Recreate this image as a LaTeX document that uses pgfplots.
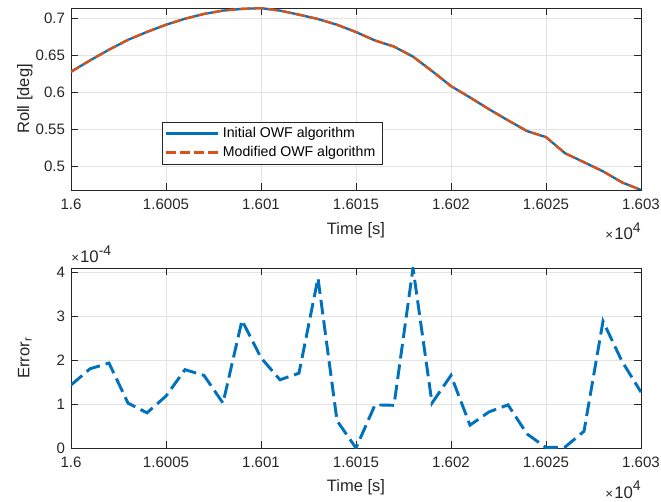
\documentclass[border=0pt]{standalone}
\usepackage{fontspec}
\setmainfont{Liberation Sans}
\usepackage{pgfplots}
\pgfplotsset{compat=1.18}
\definecolor{mblue}{rgb}{0,0.447,0.741}
\definecolor{morange}{rgb}{0.85,0.325,0.098}
\definecolor{axgray}{rgb}{0.15,0.15,0.15}

\pgfplotstableread{
t roll
16000 0.6274
16001 0.6427
16002 0.6572
16003 0.6705
16004 0.6812
16005 0.6909
16006 0.6990
16007 0.7055
16008 0.7100
16009 0.7123
16010 0.7133
16011 0.7100
16012 0.7045
16013 0.6986
16014 0.6909
16015 0.6810
16016 0.6696
16017 0.6614
16018 0.6478
16019 0.6284
16020 0.6080
16021 0.5927
16022 0.5768
16023 0.5618
16024 0.5473
16025 0.5391
16026 0.5174
16027 0.5052
16028 0.4929
16029 0.4780
16030 0.4677
}\rolldata

\pgfplotstableread{
t err
16000 1.43e-4
16001 1.80e-4
16002 1.93e-4
16003 1.02e-4
16004 0.80e-4
16005 1.18e-4
16006 1.78e-4
16007 1.65e-4
16008 1.02e-4
16009 2.90e-4
16010 2.05e-4
16011 1.55e-4
16012 1.70e-4
16013 3.86e-4
16014 0.62e-4
16015 0.00
16016 0.98e-4
16017 0.97e-4
16018 4.09e-4
16019 1.02e-4
16020 1.65e-4
16021 0.52e-4
16022 0.82e-4
16023 0.98e-4
16024 0.32e-4
16025 0.01e-4
16026 0.02e-4
16027 0.38e-4
16028 2.88e-4
16029 1.97e-4
16030 1.27e-4
}\errdata

\newcommand{\expo}[1]{{\fontsize{10}{11}\selectfont×}\kern0.8pt{\fontsize{12.6}{14}\selectfont 10}\raisebox{1.1ex}{\fontsize{10.5}{11}\selectfont #1}}

\pgfplotsset{
  myaxis/.style={
    scale only axis,
    width=427.5pt,
    xmin=16000, xmax=16030,
    xtick={16000,16005,16010,16015,16020,16025,16030},
    xticklabels={1.6,1.6005,1.601,1.6015,1.602,1.6025,1.603},
    scaled x ticks=false,
    tick align=inside,
    xtick pos=both, ytick pos=both,
    xticklabel pos=lower, yticklabel pos=left,
    major tick length=5pt,
    tick style={axgray, line width=0.5pt},
    axis line style={axgray, line width=0.6pt},
    grid=major,
    major grid style={gray!22, line width=0.5pt},
    tick label style={font=\fontsize{11.3}{13}\selectfont, text=axgray},
    label style={font=\fontsize{12.4}{14}\selectfont, text=axgray},
    xticklabel style={yshift=-3pt},
    yticklabel style={xshift=-1pt},
    /pgf/number format/assume math mode=true,
    xlabel={Time [s]},
    xlabel style={at={(axis description cs:0.5,-0.22)}, anchor=center},
    ylabel style={at={(axis description cs:-0.081,0.5)}, anchor=center, rotate=0},
    legend image code/.code={\draw[#1] (0pt,0pt) -- (39pt,0pt);},
  }
}

\begin{document}
\begin{tikzpicture}
\useasboundingbox (0pt,0pt) rectangle (495.75pt,-376.5pt);

\begin{axis}[myaxis, name=top,
  at={(53.25pt,-6pt)}, anchor=north west,
  height=136.5pt,
  ymin=0.4677, ymax=0.7135,
  ytick={0.5,0.55,0.6,0.65,0.7},
  yticklabels={0.5,0.55,0.6,0.65,0.7},
  ylabel={Roll [deg]},
  legend cell align=left,
  legend style={at={(0.159,0.375)}, anchor=north west,
    draw=axgray, line width=0.5pt, fill=white,
    font=\fontsize{10.6}{12}\selectfont,
    inner xsep=2pt, inner ysep=1pt, row sep=-1pt,
    nodes={inner sep=3pt, text=black}},
]
\addplot[mblue, line width=1.75pt] table[x=t, y=roll] {\rolldata};
\addlegendentry{Initial OWF algorithm}
\addplot[morange, line width=1.75pt, dash pattern=on 7.5pt off 3pt] table[x=t, y=roll] {\rolldata};
\addlegendentry{Modified OWF algorithm}
\end{axis}

\begin{axis}[myaxis, name=bot,
  at={(53.25pt,-201pt)}, anchor=north west,
  height=135pt,
  ymin=0, ymax=4.09e-4,
  ytick={0,1e-4,2e-4,3e-4,4e-4},
  yticklabels={0,1,2,3,4},
  scaled y ticks=false,
  ylabel={Error\textsubscript{r}},
]
\addplot[mblue, line width=2.2pt, dash pattern=on 11pt off 4.5pt] table[x=t, y=err] {\errdata};
\end{axis}

\node[anchor=base east, text=axgray, inner sep=0pt] at ([yshift=-37.5pt]top.south east) {\expo{4}};
\node[anchor=base east, text=axgray, inner sep=0pt] at ([yshift=-37.5pt]bot.south east) {\expo{4}};
\node[anchor=base west, text=axgray, inner sep=0pt] at ([yshift=3.75pt]bot.north west) {\expo{-4}};
\end{tikzpicture}
\end{document}
